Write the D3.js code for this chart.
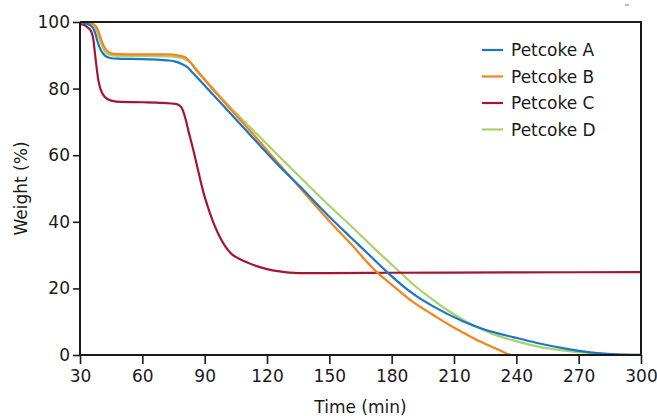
<!DOCTYPE html>
<html>
<head>
<meta charset="utf-8">
<script src="https://cdn.jsdelivr.net/npm/d3@7"></script>
<style>
  html, body { margin: 0; padding: 0; background: #fff; }
  svg { display: block; }
  text { font-family: "DejaVu Sans", sans-serif; fill: #1a1a1a; }
</style>
</head>
<body>
<svg id="chart" width="657" height="416"></svg>
<script>
// Thermogravimetric weight-loss curves for four petroleum coke samples.
const seriesNames = ["Petcoke A", "Petcoke B", "Petcoke C", "Petcoke D"];
const seriesColors = ["#1b76c4", "#f6821f", "#a3162f", "#a8d26c"];

// [time (min), weight (%)]
const petcokeA = [
  [30, 99.7], [33, 99.5], [35, 99.0], [36.5, 98.0], [37.5, 96.3], [38.5, 94.0], [40, 91.6],
  [42, 89.9], [44.5, 89.2], [48, 89.0], [55, 88.9], [65, 88.8], [72, 88.5], [76, 88.1],
  [79, 87.4], [81.4, 86.6], [84, 84.9], [90, 80.9], [100, 74.2], [114.4, 64.4],
  [125, 57.3], [136, 50.5], [150.5, 41.2], [160, 35.5], [170, 29.6], [177.8, 24.9],
  [190.7, 18.2], [200, 14.6], [214.8, 10.0], [225, 7.6], [238.9, 5.3], [250, 3.6],
  [263, 2.0], [272, 1.1], [279, 0.6], [288, 0.2], [300, 0.05]
];
const petcokeB = [
  [30, 99.8], [34, 99.7], [36.5, 99.3], [38, 98.4], [39.2, 96.6], [40.5, 94.2], [42, 92.2],
  [44, 90.9], [46.5, 90.4], [52, 90.3], [62, 90.3], [72, 90.3], [77, 90.0], [80.5, 89.4],
  [83, 88.0], [86, 85.5], [90, 82.6], [100, 75.5], [116, 64.4], [126, 57.2],
  [136, 50.1], [150.5, 39.9], [160, 33.6], [173, 24.8], [181, 20.6], [190.7, 15.7],
  [200, 12.0], [207, 9.3], [214.8, 6.6], [222, 4.2], [228, 2.5], [232, 1.4],
  [235.5, 0.4], [237.5, 0]
];
const petcokeC = [
  [30, 99.4], [32, 99.1], [34, 98.2], [35.5, 97.0], [36.5, 94.5], [37.2, 90.5], [38, 86.3],
  [38.8, 82.6], [40, 79.6], [42, 77.5], [45, 76.4], [50, 76.0], [60, 75.9], [70, 75.7],
  [76, 75.4], [78.5, 74.6], [80.3, 72.0], [82.3, 67.0], [84.6, 61.4], [87, 55.0],
  [89.5, 48.6], [92, 43.6], [94.3, 39.6], [97, 35.8], [99.9, 32.6], [103, 30.3],
  [106.3, 29.0], [110, 27.9], [115, 26.7], [120, 25.8], [126, 25.1], [135, 24.6],
  [150, 24.6], [180, 24.7], [240, 24.8], [300, 24.9]
];
const petcokeD = [
  [30, 99.8], [34, 99.6], [36.5, 99.1], [37.8, 97.9], [39, 95.6], [40.5, 93.0], [42, 91.2],
  [44, 90.2], [46.5, 89.9], [52, 89.8], [62, 89.8], [72, 89.7], [77, 89.4], [80.5, 88.8],
  [83.5, 87.6], [87, 85.1], [92, 81.5], [102, 74.6], [119.2, 63.8], [128, 58.3],
  [136.1, 53.3], [150.5, 44.5], [160.2, 38.9], [172, 31.8], [184.3, 24.7], [190, 21.4],
  [198.8, 17.1], [208, 13.0], [218, 9.3], [228, 6.5], [238.9, 4.3], [250, 2.6],
  [263, 1.3], [275, 0.6], [287, 0.2], [300, 0.05]
];
const seriesData = [petcokeA, petcokeB, petcokeC, petcokeD];

const xTicks = [30, 60, 90, 120, 150, 180, 210, 240, 270, 300];
const yTicks = [0, 20, 40, 60, 80, 100];

const svg = d3.select("#chart");
const margin = { left: 80, right: 16, top: 22, bottom: 61 };
const W = 657, H = 416;

const x = d3.scaleLinear().domain([30, 300]).range([margin.left, W - margin.right]);
const y = d3.scaleLinear().domain([0, 100]).range([H - margin.bottom, margin.top]);

const line = d3.line()
  .x(d => x(d[0]))
  .y(d => y(d[1]))
  .curve(d3.curveMonotoneX);

// Clip curves to the plot box
svg.append("clipPath").attr("id", "plot-clip")
  .append("rect")
  .attr("x", x(30)).attr("y", y(100) - 2)
  .attr("width", x(300) - x(30)).attr("height", y(0) - y(100) + 2);

const curves = svg.append("g").attr("clip-path", "url(#plot-clip)");
// Draw order: D, C, B, A so the blue sits on top near the tail
[3, 2, 1, 0].forEach(i => {
  curves.append("path")
    .datum(seriesData[i])
    .attr("fill", "none")
    .attr("stroke", seriesColors[i])
    .attr("stroke-width", 2.2)
    .attr("stroke-linejoin", "round")
    .attr("stroke-linecap", "round")
    .attr("d", line);
});

// Frame (top and right edges)
svg.append("path")
  .attr("d", `M${x(30)},${y(100)}H${x(300)}V${y(0)}`)
  .attr("fill", "none").attr("stroke", "#1a1a1a").attr("stroke-width", 2);

// Axes
const xAxis = svg.append("g")
  .attr("transform", `translate(0,${y(0)})`)
  .call(d3.axisBottom(x).tickValues(xTicks).tickSize(9).tickPadding(6).tickFormat(d3.format("d")));
const yAxis = svg.append("g")
  .attr("transform", `translate(${x(30)},0)`)
  .call(d3.axisLeft(y).tickValues(yTicks).tickSize(7).tickPadding(3).tickFormat(d3.format("d")));

[xAxis, yAxis].forEach(g => {
  g.select(".domain").attr("stroke", "#1a1a1a").attr("stroke-width", 2);
  g.selectAll(".tick line").attr("stroke", "#1a1a1a").attr("stroke-width", 1.6);
  g.selectAll(".tick text")
    .attr("fill", "#1a1a1a")
    .style("font-family", "'DejaVu Sans', sans-serif")
    .style("font-size", "17px");
});
xAxis.select(".domain").attr("d", `M${x(30)},0H${x(300)}`);
yAxis.select(".domain").attr("d", `M0,${y(0)}V${y(100)}`);

// Axis titles
svg.append("text")
  .attr("x", (x(30) + x(300)) / 2)
  .attr("y", 413)
  .attr("text-anchor", "middle")
  .style("font-size", "17px")
  .text("Time (min)");

svg.append("text")
  .attr("transform", `translate(27,${(y(0) + y(100)) / 2}) rotate(-90)`)
  .attr("text-anchor", "middle")
  .style("font-size", "17px")
  .text("Weight (%)");

// Legend
const legend = svg.append("g").attr("transform", "translate(482,50)");
seriesNames.forEach((name, i) => {
  const row = legend.append("g").attr("transform", `translate(0,${i * 26.5})`);
  row.append("line")
    .attr("x1", 0).attr("x2", 21).attr("y1", 0).attr("y2", 0)
    .attr("stroke", seriesColors[i]).attr("stroke-width", 2.2);
  row.append("text")
    .attr("x", 29).attr("y", 0).attr("dy", "0.36em")
    .style("font-size", "17px")
    .text(name);
});

// Small grey tick mark in the top-right corner
svg.append("line")
  .attr("x1", 625).attr("x2", 629).attr("y1", 5).attr("y2", 5)
  .attr("stroke", "#777").attr("stroke-width", 1);
</script>
</body>
</html>
